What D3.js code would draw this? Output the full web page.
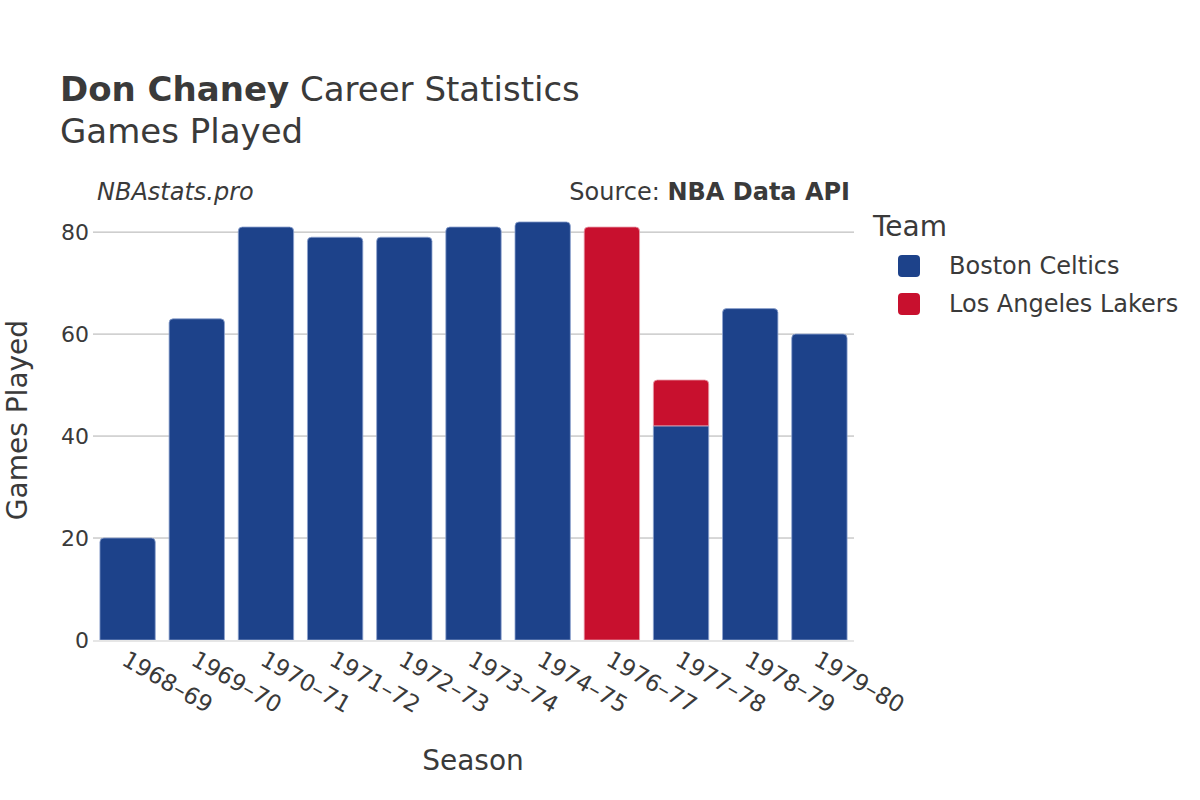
<!DOCTYPE html>
<html><head><meta charset="utf-8">
<script src="https://cdn.jsdelivr.net/npm/d3@7"></script>
<style>body{margin:0;background:#fff;} text{font-family:"DejaVu Sans",sans-serif;fill:#3a3a3a;}</style>
</head><body>
<svg id="chart" width="1200" height="800"></svg>
<script>
const seasons = ["1968–69","1969–70","1970–71","1971–72","1972–73","1973–74","1974–75","1976–77","1977–78","1978–79","1979–80"];
const teams = ["Boston Celtics","Los Angeles Lakers"];
const teamColors = ["#1d428a","#c8102e"];
const celtics = [20,63,81,79,79,81,82,0,42,65,60];
const lakers = [0,0,0,0,0,0,0,81,9,0,0];
const yTicks = [0,20,40,60,80];

const svg = d3.select("#chart");
const m = {l:93, r:854, t:200, b:640};
const x = d3.scaleBand().domain(seasons).range([m.l,m.r]).paddingInner(0.2).paddingOuter(0.1);
const y = d3.scaleLinear().domain([0,86.3]).range([m.b,m.t]);

// grid
svg.append("g").selectAll("line").data(yTicks.filter(d=>d>0)).join("line")
  .attr("x1",m.l).attr("x2",m.r).attr("y1",d=>y(d)).attr("y2",d=>y(d))
  .attr("stroke","#b0b0b0").attr("stroke-width",1);

// y tick labels
const yAxis = d3.axisLeft(y).tickValues(yTicks).tickSize(0).tickPadding(0);
const ya = svg.append("g").attr("transform",`translate(${m.l-4},0)`).call(yAxis);
ya.select(".domain").remove();
ya.selectAll("text").attr("font-size",22).attr("fill","#3a3a3a").attr("dy","0.35em").style("font-family","DejaVu Sans");

// stacked bars
const stacks = seasons.map((s,i)=>({s, segs:[{t:0,y0:0,y1:celtics[i]},{t:1,y0:celtics[i],y1:celtics[i]+lakers[i]}].filter(d=>d.y1>d.y0)}));
const r = 4;
function barPath(x0,w,yTop,yBot,rounded){
  if(!rounded) return `M${x0},${yBot}V${yTop}H${x0+w}V${yBot}Z`;
  return `M${x0},${yBot}V${yTop+r}Q${x0},${yTop} ${x0+r},${yTop}H${x0+w-r}Q${x0+w},${yTop} ${x0+w},${yTop+r}V${yBot}Z`;
}
const g = svg.append("g");
stacks.forEach(st=>{
  const top = d3.max(st.segs,d=>d.y1);
  st.segs.forEach(d=>{
    g.append("path").attr("d",barPath(x(st.s),x.bandwidth(),y(d.y1),y(d.y0),d.y1===top))
      .attr("fill",teamColors[d.t]).attr("stroke", d.t===0?"#8ea3cf":"#e8a0ad").attr("stroke-width",0.8);
  });
});

// zero line
svg.append("line").attr("x1",m.l).attr("x2",m.r).attr("y1",y(0)+1).attr("y2",y(0)+1)
  .attr("stroke","#e6e6e6").attr("stroke-width",2);

// x tick labels
const xa = svg.append("g");
seasons.forEach(s=>{
  const cx = x(s)+x.bandwidth()/2;
  xa.append("text").attr("transform",`translate(${cx-3},${657}) rotate(30)`)
    .attr("font-size",23).attr("text-anchor","start").attr("dy","0.35em").text(s);
});

// titles
const t1 = svg.append("text").attr("x",60).attr("y",101).attr("font-size",34);
t1.append("tspan").attr("font-weight","bold").text("Don Chaney");
t1.append("tspan").text(" Career Statistics");
svg.append("text").attr("x",60).attr("y",143).attr("font-size",34).text("Games Played");
svg.append("text").attr("x",97).attr("y",200).attr("font-size",24).attr("font-style","italic").text("NBAstats.pro");
const src = svg.append("text").attr("x",850).attr("y",200).attr("font-size",24).attr("text-anchor","end");
src.append("tspan").text("Source: ");
src.append("tspan").attr("font-weight","bold").text("NBA Data API");

// axis titles
svg.append("text").attr("x",473).attr("y",770).attr("font-size",28).attr("text-anchor","middle").text("Season");
svg.append("text").attr("transform","translate(17,420) rotate(-90)").attr("font-size",28).attr("text-anchor","middle").attr("dy","0.35em").text("Games Played");

// legend
svg.append("text").attr("x",873).attr("y",236).attr("font-size",28).text("Team");
teams.forEach((t,i)=>{
  const yy = 266 + i*38;
  svg.append("rect").attr("x",898).attr("y",yy-11).attr("width",22).attr("height",22).attr("rx",4)
    .attr("fill",teamColors[i]);
  svg.append("text").attr("x",949).attr("y",yy).attr("dy","0.35em").attr("font-size",24).text(t);
});
</script>
</body></html>
